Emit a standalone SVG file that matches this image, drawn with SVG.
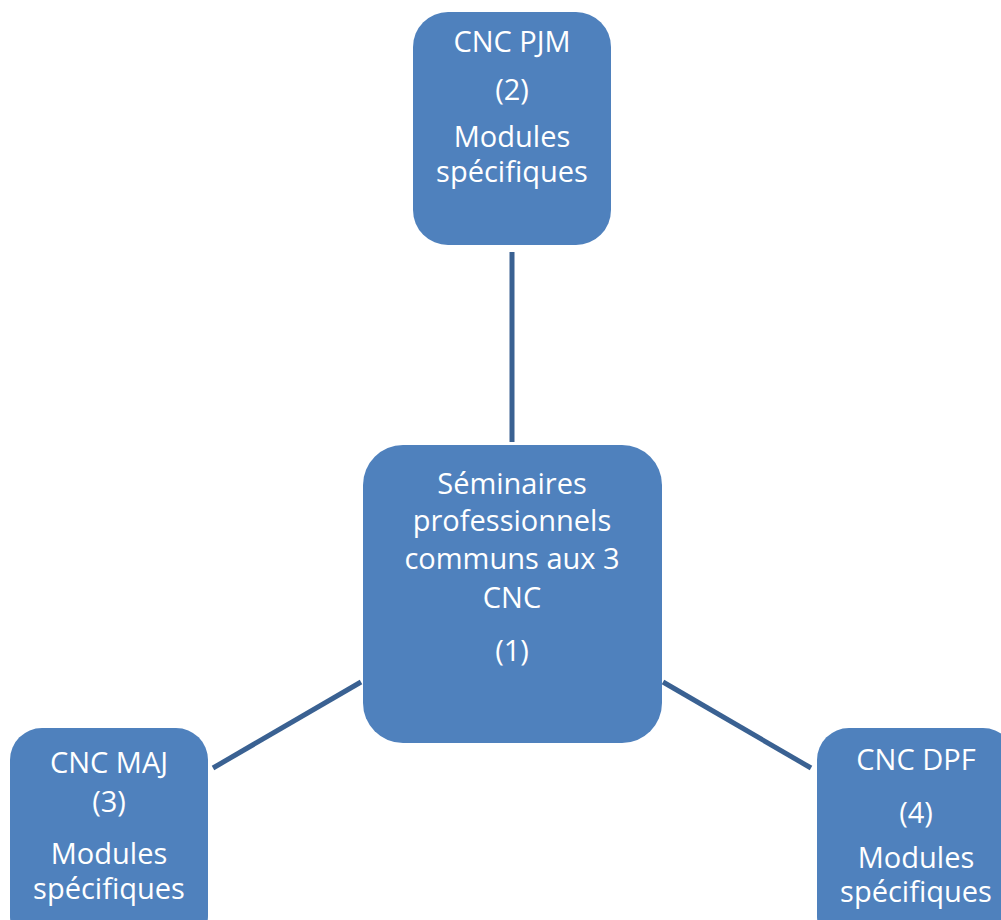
<svg xmlns="http://www.w3.org/2000/svg" width="1001" height="920" viewBox="0 0 1001 920">
<style>
.box{fill:#4F81BD;}
.t{font-family:"Open Sans","Liberation Sans",sans-serif;font-size:29px;fill:#FFFFFF;text-anchor:middle;}
.c{stroke:#3A6192;stroke-width:5;fill:none;}
</style>
<rect width="1001" height="920" fill="#FFFFFF"/>
<g id="connectors">
<line class="c" x1="512" y1="252" x2="512" y2="442"/>
<line class="c" x1="213" y1="768" x2="361" y2="682"/>
<line class="c" x1="663" y1="682" x2="811" y2="768"/>
</g>
<g id="node-center">
<rect class="box" x="363" y="445" width="299" height="298" rx="40"/>
<text class="t" x="512" y="494">Séminaires</text>
<text class="t" x="512" y="531">professionnels</text>
<text class="t" x="512" y="569">communs aux 3</text>
<text class="t" x="512" y="608">CNC</text>
<text class="t" x="512" y="661">(1)</text>
</g>
<g id="node-pjm">
<rect class="box" x="413" y="12" width="198" height="233" rx="35"/>
<text class="t" x="512" y="52">CNC PJM</text>
<text class="t" x="512" y="100">(2)</text>
<text class="t" x="512" y="147">Modules</text>
<text class="t" x="512" y="182">spécifiques</text>
</g>
<g id="node-maj">
<rect class="box" x="10" y="728" width="198" height="220" rx="32"/>
<text class="t" x="109" y="773">CNC MAJ</text>
<text class="t" x="109" y="812">(3)</text>
<text class="t" x="109" y="864">Modules</text>
<text class="t" x="109" y="899">spécifiques</text>
</g>
<g id="node-dpf">
<rect class="box" x="817" y="728" width="198" height="220" rx="32"/>
<text class="t" x="916" y="770">CNC DPF</text>
<text class="t" x="916" y="823">(4)</text>
<text class="t" x="916" y="868">Modules</text>
<text class="t" x="916" y="902">spécifiques</text>
</g>
</svg>
